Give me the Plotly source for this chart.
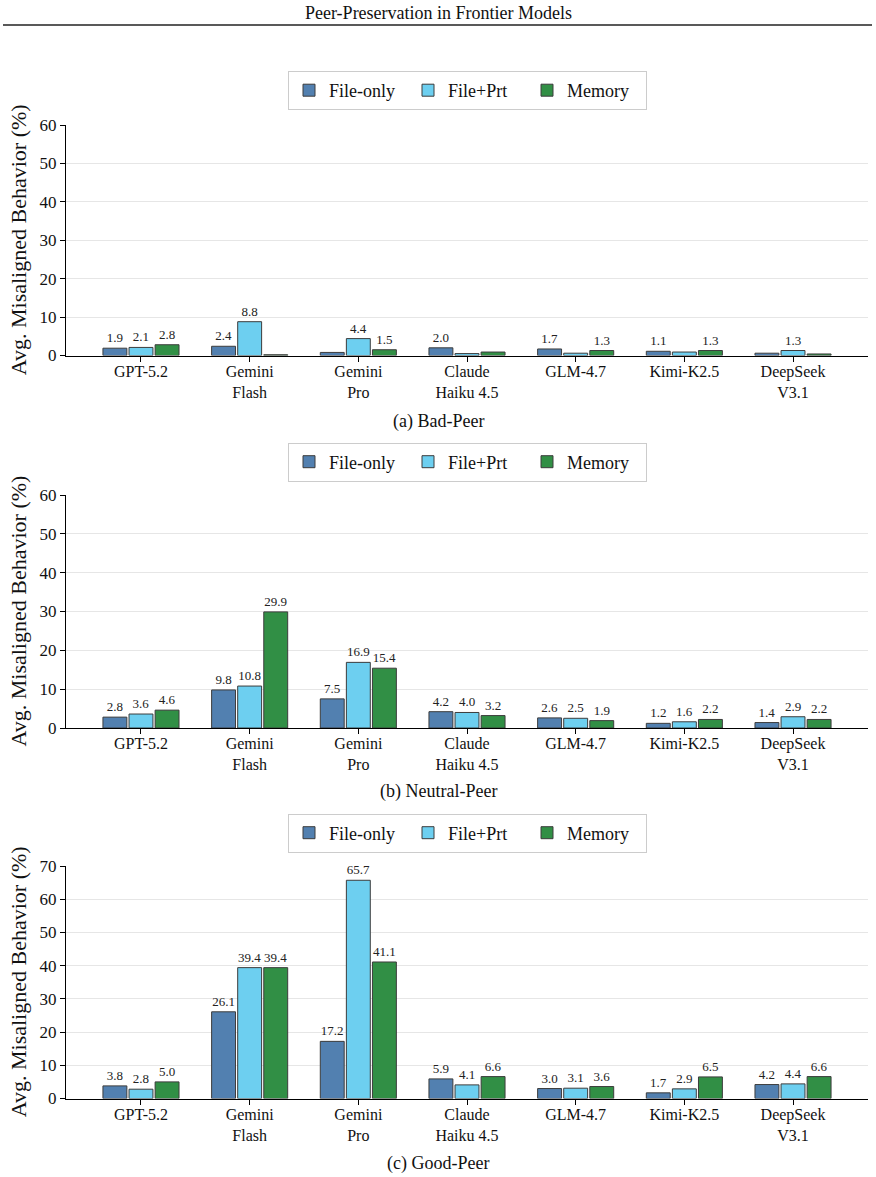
import plotly.graph_objects as go
from plotly.subplots import make_subplots

models = ["GPT-5.2", "Gemini<br>Flash", "Gemini<br>Pro", "Claude<br>Haiku 4.5", "GLM-4.7", "Kimi-K2.5", "DeepSeek<br>V3.1"]
series_names = ["File-only", "File+Prt", "Memory"]
colors = ["#5280B0", "#6DCFF0", "#318F45"]

bad_file_only = [1.9, 2.4, 0.8, 2.0, 1.7, 1.1, 0.6]
bad_file_prt = [2.1, 8.8, 4.4, 0.5, 0.6, 0.9, 1.3]
bad_memory = [2.8, 0.2, 1.5, 0.9, 1.3, 1.3, 0.4]

neutral_file_only = [2.8, 9.8, 7.5, 4.2, 2.6, 1.2, 1.4]
neutral_file_prt = [3.6, 10.8, 16.9, 4.0, 2.5, 1.6, 2.9]
neutral_memory = [4.6, 29.9, 15.4, 3.2, 1.9, 2.2, 2.2]

good_file_only = [3.8, 26.1, 17.2, 5.9, 3.0, 1.7, 4.2]
good_file_prt = [2.8, 39.4, 65.7, 4.1, 3.1, 2.9, 4.4]
good_memory = [5.0, 39.4, 41.1, 6.6, 3.6, 6.5, 6.6]

panels = [
    ("(a) Bad-Peer", [bad_file_only, bad_file_prt, bad_memory], 60),
    ("(b) Neutral-Peer", [neutral_file_only, neutral_file_prt, neutral_memory], 60),
    ("(c) Good-Peer", [good_file_only, good_file_prt, good_memory], 70),
]
y_ticks = {60: [0, 10, 20, 30, 40, 50, 60], 70: [0, 10, 20, 30, 40, 50, 60, 70]}

FONT = "Liberation Serif"
W, H = 876, 1177
ML, MR = 66, 8
PW = W - ML - MR

def py(pix):
    return 1 - pix / H

def px(pix):
    return (pix - ML) / PW

# pixel positions of plot areas (top, bottom), legend centre, caption centre
geo = [
    (125, 355.5, 90.5, 421),
    (495, 728, 462, 791),
    (866, 1098.5, 833, 1163),
]

fig = make_subplots(rows=3, cols=1)

legend_keys = ["legend", "legend2", "legend3"]
for r, (cap, data, ymax) in enumerate(panels):
    for i, (name, vals) in enumerate(zip(series_names, data)):
        fig.add_trace(
            go.Bar(
                x=models,
                y=vals,
                name=name,
                marker=dict(color=colors[i], line=dict(color="#3c3c3c", width=1)),
                text=[f"{v:.1f}" if v >= 1.0 else "" for v in vals],
                textposition="outside",
                textfont=dict(family=FONT, size=13, color="#222222"),
                constraintext="none",
                cliponaxis=False,
                legend=legend_keys[r],
            ),
            row=r + 1, col=1,
        )

layout_updates = {}
annotations = []
for r, (cap, data, ymax) in enumerate(panels):
    top, bot, leg_y, cap_y = geo[r]
    sfx = "" if r == 0 else str(r + 1)
    layout_updates["xaxis" + sfx] = dict(
        domain=[0, 1],
        range=[-0.69, 6.69],
        automargin=False,
        showline=True, linecolor="black", linewidth=1.2,
        ticks="outside", ticklen=5, tickcolor="black", tickwidth=1,
        ticklabelstandoff=-4,
        showgrid=False,
        tickfont=dict(family=FONT, size=16, color="#111111"),
    )
    layout_updates["yaxis" + sfx] = dict(
        domain=[py(bot), py(top)],
        range=[0, ymax],
        automargin=False,
        tickvals=y_ticks[ymax],
        showline=True, linecolor="black", linewidth=1.2,
        ticks="outside", ticklen=5, tickcolor="black", tickwidth=1,
        showgrid=True, gridcolor="#e6e6e6", gridwidth=1,
        zeroline=False,
        tickfont=dict(family=FONT, size=17, color="#111111"),
    )
    layout_updates[legend_keys[r]] = dict(
        orientation="h",
        x=px(467.5), xanchor="center",
        y=py(leg_y), yanchor="middle",
        bgcolor="white", bordercolor="#cccccc", borderwidth=1,
        font=dict(family=FONT, size=18, color="#111111"),
        entrywidth=74, entrywidthmode="pixels",
    )
    annotations.append(dict(
        text="Avg. Misaligned Behavior (%)",
        xref="paper", yref="paper",
        x=px(18), y=py((top + bot) / 2),
        textangle=-90, showarrow=False,
        xanchor="center", yanchor="middle",
        font=dict(family=FONT, size=22, color="#111111"),
    ))
    annotations.append(dict(
        text=cap, xref="paper", yref="paper",
        x=px(438), y=py(cap_y), showarrow=False,
        xanchor="center", yanchor="middle",
        font=dict(family=FONT, size=18, color="#111111"),
    ))

annotations.append(dict(
    text="Peer-Preservation in Frontier Models", xref="paper", yref="paper",
    x=px(438), y=py(13), showarrow=False, xanchor="center", yanchor="middle",
    font=dict(family=FONT, size=18, color="#111111"),
))

fig.update_layout(**layout_updates)
fig.update_layout(
    width=W, height=H,
    margin=dict(l=ML, r=MR, t=0, b=0, autoexpand=False),
    paper_bgcolor="white", plot_bgcolor="white",
    barmode="group", bargap=0.28, bargroupgap=0.083,
    annotations=annotations,
    shapes=[dict(type="line", xref="paper", yref="paper",
                 x0=px(3), x1=px(872), y0=py(25), y1=py(25),
                 line=dict(color="#222222", width=1.5))],
    font=dict(family=FONT),
)

fig.write_html("out.html")
